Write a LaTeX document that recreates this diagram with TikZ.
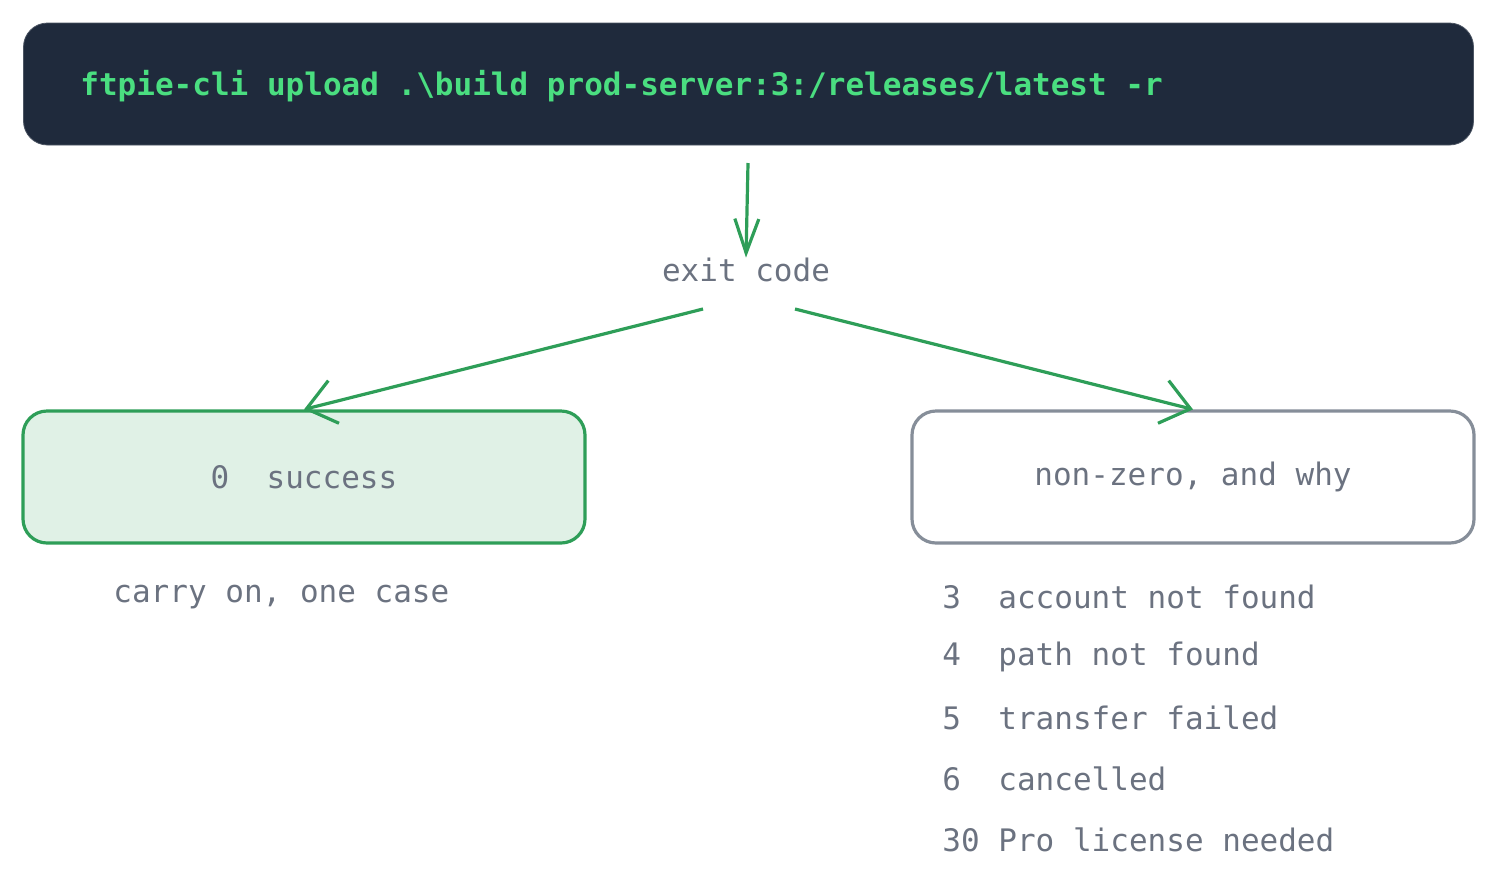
\documentclass[tikz,border=0pt]{standalone}
\usepackage{fontspec}
\setmonofont{DejaVu Sans Mono}
\usetikzlibrary{arrows.meta}
\definecolor{navy}{HTML}{1F2A3C}
\definecolor{mint}{HTML}{4ADE80}
\definecolor{leaf}{HTML}{2E9E58}
\definecolor{leafbg}{HTML}{E0F1E6}
\definecolor{slate}{HTML}{6B7280}
\definecolor{edge}{HTML}{868E99}
\tikzset{
  txt/.style={font=\ttfamily\fontsize{15.5}{18}\selectfont, text=slate, inner sep=0pt},
  box/.style={rounded corners=12pt, line width=1.6pt, minimum width=281pt, minimum height=66pt},
  flow/.style={draw=leaf, line width=1.6pt, -{Straight Barb[length=14pt,width=22pt]}}
}
\begin{document}
\begin{tikzpicture}[x=0.5pt,y=-0.5pt]
  \useasboundingbox (0,0) rectangle (1498,885);

  % command line
  \node (cmd) [fill=navy, draw=navy!80, rounded corners=12pt, minimum width=725pt, minimum height=61pt] at (748.5,84) {};
  \node [txt, text=mint, font=\ttfamily\bfseries\fontsize{15.5}{18}\selectfont, anchor=west] at (80,86) {ftpie-cli upload .\textbackslash build prod-server:3:/releases/latest -r};

  \node (code) [txt] at (746,270) {exit code};

  % outcomes
  \node (ok) [box, draw=leaf, fill=leafbg] at (304,477) {};
  \node [txt] at (304,477) {0\ \ success};
  \node (bad) [box, draw=edge] at (1193,477) {};
  \node [txt] at (1193,477) {non-zero, and why};

  \coordinate (top) at (748,163);
  \coordinate (codel) at (703,309);
  \coordinate (coder) at (795,309);
  \draw [flow, -{Straight Barb[length=17pt,width=12pt]}] (top) -- (code.north);
  \draw [flow] (codel) -- (ok.north);
  \draw [flow] (coder) -- (bad.north);

  \node [txt, anchor=west] at (113,597) {carry on, one case};
  \foreach \y/\t in {597/3\ \ account not found, 657/4\ \ path not found,
                     718/5\ \ transfer failed, 779/6\ \ cancelled, 840/30 Pro license needed}
    \node [txt, anchor=west] at (942,\y) {\t};
\end{tikzpicture}
\end{document}
